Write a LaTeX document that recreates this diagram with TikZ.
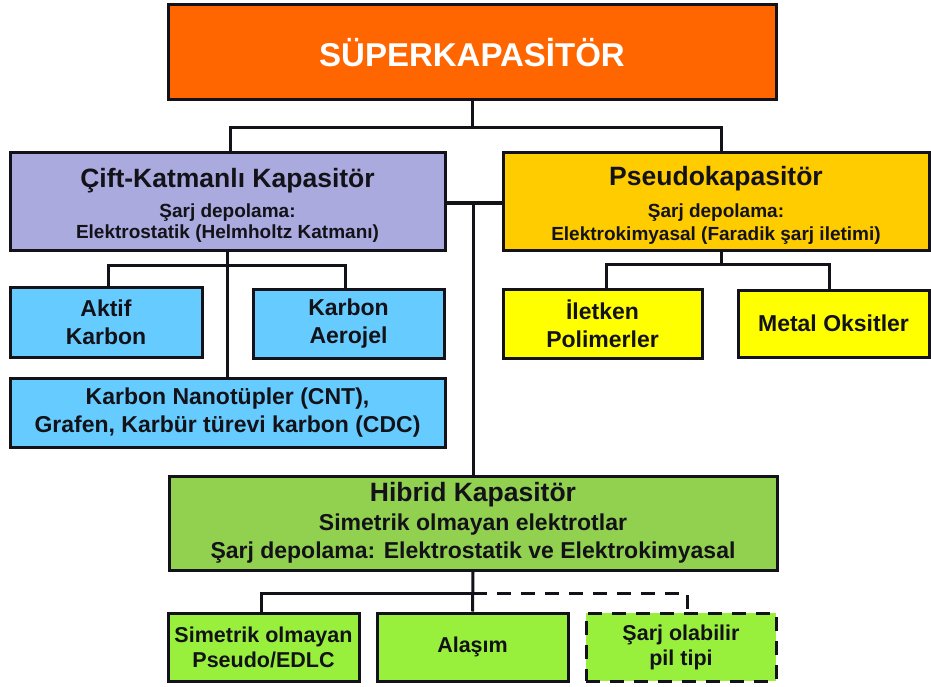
\documentclass[tikz,border=0pt]{standalone}
\usepackage{fontspec}
\setmainfont{Liberation Sans}
\usetikzlibrary{calc}
\definecolor{cOrange}{HTML}{FF6600}
\definecolor{cLav}{HTML}{AAAADF}
\definecolor{cGold}{HTML}{FFCC00}
\definecolor{cBlue}{HTML}{66CCFF}
\definecolor{cYel}{HTML}{FFFF00}
\definecolor{cGreen}{HTML}{92D050}
\definecolor{cLime}{HTML}{99F03C}
\definecolor{ink}{HTML}{121218}
\newcommand{\headtext}[1]{{\fontsize{26.5}{30}\selectfont\bfseries #1}}
\begin{document}
\begin{tikzpicture}[x=1pt,y=-1pt,
  box/.style={draw=ink, line width=3pt, inner sep=0pt, align=center, text=ink},
  childfont/.style={font=\fontsize{23}{28}\selectfont\bfseries},
  conn/.style={draw=ink, line width=3pt},
  dashconn/.style={draw=ink, line width=3pt, dash pattern=on 14pt off 10pt}]
\useasboundingbox (0,0) rectangle (931,687);
\fill[white] (0,0) rectangle (931,687);

% top
\node[box, fill=cOrange, text=white, minimum width=608pt, minimum height=95pt,
      font=\fontsize{33}{36}\selectfont\bfseries] (top) at (472,52.5) {SÜPERKAPASİTÖR};

% level 1
\node[box, fill=cLav, minimum width=435pt, minimum height=97pt,
      font=\fontsize{19}{21}\selectfont\bfseries] (cdl) at (227.5,201.5)
  {\rule{0pt}{26pt}\headtext{Çift-Katmanlı Kapasitör}\\[9pt]
   Şarj depolama:\\Elektrostatik (Helmholtz Katmanı)};
\node[box, fill=cGold, minimum width=426pt, minimum height=97pt,
      font=\fontsize{19}{23}\selectfont\bfseries] (pseudo) at (716,201.5)
  {\rule{0pt}{26pt}\headtext{Pseudokapasitör}\\[9pt]
   Şarj depolama:\\Elektrokimyasal (Faradik şarj iletimi)};

% left children
\node[box, fill=cBlue, childfont, minimum width=192pt, minimum height=70pt] (aktif) at (106,322) {Aktif\\Karbon};
\node[box, fill=cBlue, childfont, minimum width=191pt, minimum height=69pt] (aerojel) at (348.5,323.5) {Karbon\\Aerojel};
\node[box, fill=cBlue, childfont, minimum width=435pt, minimum height=69pt] (cnt) at (227.5,412.5)
  {Karbon Nanotüpler (CNT),\\Grafen, Karbür türevi karbon (CDC)};

% right children
\node[box, fill=cYel, childfont, minimum width=199pt, minimum height=69pt] (iletken) at (602.5,323.5) {İletken\\Polimerler};
\node[box, fill=cYel, childfont, minimum width=191pt, minimum height=67pt] (metal) at (833.5,323.5) {Metal Oksitler};

% hybrid
\node[box, fill=cGreen, minimum width=608pt, minimum height=94pt,
      font=\fontsize{23}{28}\selectfont\bfseries] (hybrid) at (473,523)
  {\headtext{Hibrid Kapasitör}\\[1pt]
   Simetrik olmayan elektrotlar\\Şarj depolama: Elektrostatik ve Elektrokimyasal};

% hybrid children
\node[box, fill=cLime, font=\fontsize{21.5}{25}\selectfont\bfseries, minimum width=191pt, minimum height=68pt] (sim) at (263.5,647)
  {Simetrik olmayan\\Pseudo/EDLC};
\node[box, fill=cLime, font=\fontsize{21.5}{25}\selectfont\bfseries, minimum width=191pt, minimum height=68pt] (alasim) at (472.5,647)
  {Alaşım};
\node[box, fill=cLime, dash pattern=on 14pt off 10pt, font=\fontsize{21.5}{25}\selectfont\bfseries, minimum width=190pt, minimum height=68pt] (sarj) at (681,647)
  {Şarj olabilir\\pil tipi};

% connectors
\coordinate (j1) at (473,128);
\draw[conn] (top.south) -- (top.south |- j1);
\draw[conn] ([xshift=2.5pt]cdl.north) |- (j1) -| ([xshift=5pt]pseudo.north);

\coordinate (cj) at (227.5,265);
\draw[conn] (cdl.south) -- (cnt.north);
\draw[conn] ([xshift=2pt]aktif.north) |- (cj) -| ([xshift=-3.5pt]aerojel.north);

\coordinate (pj) at (721,264);
\draw[conn] ([xshift=5pt]pseudo.south) -- (pj);
\draw[conn] ([xshift=3.5pt]iletken.north) |- (pj) -| ([xshift=-4.5pt]metal.north);

\coordinate (tl) at ([yshift=-1.5pt]cdl.east);
\coordinate (tr) at ([yshift=-1.5pt]pseudo.west);
\draw[conn] (tl) -- (tr);
\draw[conn] (hybrid.north |- tl) -- (hybrid.north);

\coordinate (hj) at (473,593);
\draw[conn] (hybrid.south) -- (alasim.north);
\draw[conn] ([xshift=-2.5pt]sim.north) |- (hj);
\draw[dashconn] (hj) -| ([xshift=6pt]sarj.north);
\end{tikzpicture}
\end{document}
